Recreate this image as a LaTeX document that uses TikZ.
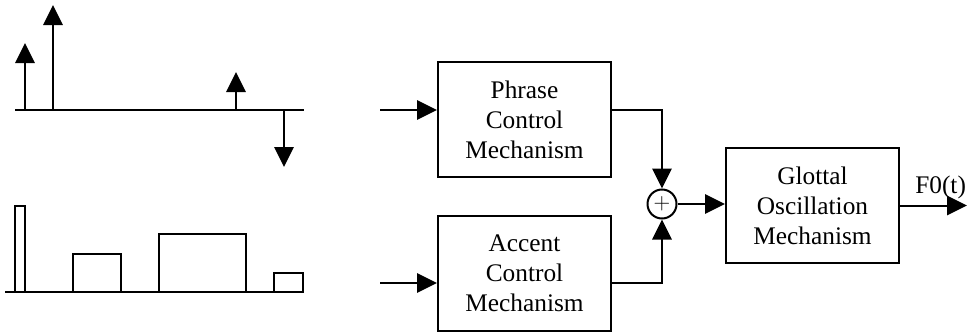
\documentclass[tikz,border=0pt]{standalone}
\usepackage{fontspec}
\setmainfont{Liberation Serif}
\usetikzlibrary{arrows.meta}
\begin{document}
\begin{tikzpicture}[x=0.75pt,y=-0.75pt,
  ln/.style={line width=1.5pt},
  tri/.tip={Triangle[width=14.5pt,length=15pt]},
  blk/.style={draw,ln,minimum width=129.75pt,minimum height=86.25pt,inner sep=0pt,
    align=center,font=\fontsize{19}{22.5}\selectfont},
  sumnode/.style={draw,ln,circle,minimum size=21.75pt,inner sep=0pt,
    font=\fontsize{17}{17}\selectfont}]
\useasboundingbox (0,0) rectangle (971,332);
% top-left impulse plot
\draw[ln] (15,110) -- (304,110);
\draw[ln,-tri] (25,110) -- (25,43);
\draw[ln,-tri] (53,110) -- (53,5);
\draw[ln,-tri] (236,110) -- (236,72);
\draw[ln,-tri] (284,110) -- (284,167);
% bottom-left step plot
\draw[ln] (5,292) -- (304,292);
\draw[ln] (15,292) rectangle (25,206);
\draw[ln] (73,292) rectangle (121,254);
\draw[ln] (159,292) rectangle (246,234);
\draw[ln] (274,292) rectangle (303,273);
% block diagram
\node[blk] (phrase) at (524.5,119.5) {Phrase\\Control\\Mechanism};
\node[blk] (accent) at (524.5,273.5) {Accent\\Control\\Mechanism};
\node[blk] (glottal) at (812.5,205.5) {Glottal\\Oscillation\\Mechanism};
\node[sumnode] (sum) at (662,204) {$+$};
\coordinate (in1) at (380,110);
\coordinate (in2) at (380,283);
\coordinate (out) at (967,205.5);
\draw[ln,-tri] (in1) -- (phrase.west |- in1);
\draw[ln,-tri] (in2) -- (accent.west |- in2);
\draw[ln,-tri] (phrase.east |- in1) -| (sum.north);
\draw[ln,-tri] (accent.east |- in2) -| (sum.south);
\draw[ln,-tri] (sum.east) -- (sum.east -| glottal.west);
\draw[ln,-tri] (glottal.east |- out) -- (out);
\node[anchor=base west,inner sep=0pt,font=\fontsize{19}{22.5}\selectfont] (f0) at (915,193) {F0(t)};
\end{tikzpicture}
\end{document}
